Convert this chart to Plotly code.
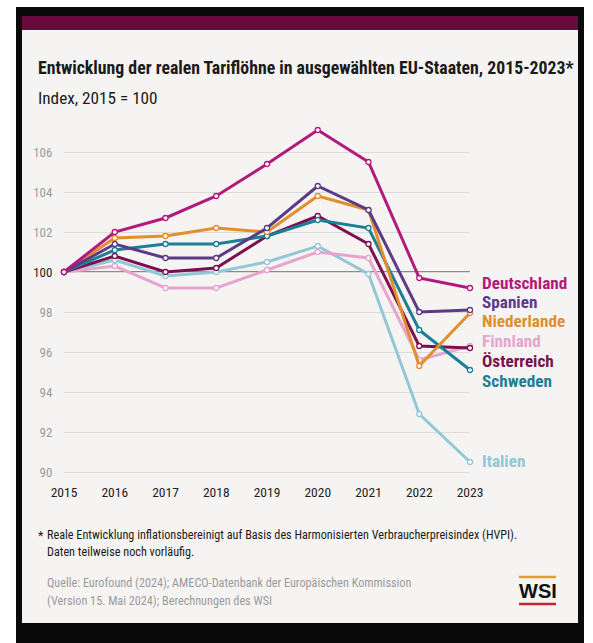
import plotly.graph_objects as go

years = [2015, 2016, 2017, 2018, 2019, 2020, 2021, 2022, 2023]

countries = ["Deutschland", "Spanien", "Niederlande", "Finnland", "Österreich", "Schweden", "Italien"]

deutschland = [100, 102.0, 102.7, 103.8, 105.4, 107.1, 105.5, 99.7, 99.2]
spanien     = [100, 101.4, 100.7, 100.7, 102.2, 104.3, 103.1, 98.0, 98.1]
niederlande = [100, 101.7, 101.8, 102.2, 102.0, 103.8, 103.1, 95.3, 97.95]
finnland    = [100, 100.3, 99.2, 99.2, 100.1, 101.0, 100.7, 95.6, 96.3]
oesterreich = [100, 100.8, 100.0, 100.2, 101.8, 102.8, 101.4, 96.3, 96.2]
schweden    = [100, 101.1, 101.4, 101.4, 101.8, 102.6, 102.2, 97.1, 95.1]
italien     = [100, 100.6, 99.8, 100.0, 100.5, 101.3, 99.9, 92.9, 90.5]

series = [deutschland, spanien, niederlande, finnland, oesterreich, schweden, italien]
colors = ["#b3197c", "#5c3a87", "#e08f2c", "#e6a5cf", "#7b1050", "#1b7f96", "#92c7d6"]
label_y = [99.47, 98.5, 97.55, 96.55, 95.55, 94.55, 90.55]

y_ticks = [90, 92, 94, 96, 98, 100, 102, 104, 106]
y_ticktext = [("<span style='color:#222222'>100</span>" if v == 100 else str(v)) for v in y_ticks]

title_text = "Entwicklung der realen Tariflöhne in ausgewählten EU-Staaten, 2015-2023*"
subtitle_text = "Index, 2015 = 100"
footnote_lines = [
    "Reale Entwicklung inflationsbereinigt auf Basis des Harmonisierten Verbraucherpreisindex (HVPI).",
    "Daten teilweise noch vorläufig.",
]
source_lines = [
    "Quelle: Eurofound (2024); AMECO-Datenbank der Europäischen Kommission",
    "(Version 15. Mai 2024); Berechnungen des WSI",
]

FONT = "Roboto Condensed, Liberation Sans Narrow, Roboto, sans-serif"

W, H = 593, 643
PL, PR = 64, 470
PT, PB = 120, 474


def px(x):
    return (x - PL) / (PR - PL)


def py(y):
    return (PB - y) / (PB - PT)


fig = go.Figure()

draw_order = [6, 3, 4, 5, 2, 1, 0]
for i in draw_order:
    fig.add_trace(go.Scatter(
        x=years, y=series[i], mode="lines+markers", name=countries[i],
        line=dict(color=colors[i], width=3),
        marker=dict(size=5, color="white", line=dict(color=colors[i], width=1.3)),
        cliponaxis=False, showlegend=False,
    ))

shapes = [
    dict(type="rect", xref="paper", yref="paper", x0=px(16), x1=px(584), y0=py(7), y1=py(643),
         fillcolor="#0a0a0a", line=dict(width=0), layer="below"),
    dict(type="rect", xref="paper", yref="paper", x0=px(22), x1=px(578), y0=py(30), y1=py(623),
         fillcolor="#f6f4f2", line=dict(width=0), layer="below"),
    dict(type="rect", xref="paper", yref="paper", x0=px(22), x1=px(578), y0=py(16), y1=py(30),
         fillcolor="#6a0a3c", line=dict(width=0), layer="below"),
    dict(type="line", xref="x", yref="y", x0=years[0], x1=years[-1], y0=100, y1=100,
         line=dict(color="#222222", width=1.2), layer="below"),
    dict(type="line", xref="paper", yref="paper", x0=px(519), x1=px(556), y0=py(577), y1=py(577),
         line=dict(color="#e0a030", width=2.5)),
    dict(type="line", xref="paper", yref="paper", x0=px(519), x1=px(556), y0=py(604), y1=py(604),
         line=dict(color="#c0282d", width=2.5)),
]

annotations = []
for i, name in enumerate(countries):
    annotations.append(dict(
        x=years[-1], y=label_y[i], xref="x", yref="y", text="<b>" + name + "</b>",
        xanchor="left", yanchor="middle", xshift=10, showarrow=False,
        font=dict(family=FONT, size=17.2, color=colors[i]),
    ))


def text_ann(x, y, text, size, color, bold=False, anchor="left", family=FONT):
    return dict(x=px(x), y=py(y), xref="paper", yref="paper", xanchor=anchor, yanchor="middle",
                text=("<b>" + text + "</b>") if bold else text, showarrow=False,
                font=dict(family=family, size=size, color=color))


annotations += [
    text_ann(36, 67, title_text, 17.8, "#1a1a1a", bold=True),
    text_ann(36, 98, subtitle_text, 17.2, "#1a1a1a"),
    text_ann(36, 535, "*", 12.5, "#1a1a1a"),
    text_ann(45, 535, footnote_lines[0], 12.2, "#1a1a1a"),
    text_ann(45, 552, footnote_lines[1], 12.2, "#1a1a1a"),
    text_ann(45, 583, source_lines[0], 12.2, "#9a9a9a"),
    text_ann(45, 601, source_lines[1], 12.2, "#9a9a9a"),
    text_ann(537.5, 591, "WSI", 20, "#111111", bold=True, anchor="center",
             family="Liberation Sans, Arial, sans-serif"),
]

fig.update_layout(
    width=W, height=H,
    margin=dict(l=PL, r=W - PR, t=PT, b=H - PB, pad=0),
    paper_bgcolor="white", plot_bgcolor="rgba(0,0,0,0)",
    font=dict(family=FONT),
    shapes=shapes, annotations=annotations,
    xaxis=dict(range=[years[0], years[-1]], tickvals=years, ticktext=[str(y) for y in years],
               showgrid=False, zeroline=False, showline=False,
               ticks="outside", ticklen=6, tickcolor="rgba(0,0,0,0)",
               tickfont=dict(family=FONT, size=13.5, color="#222222")),
    yaxis=dict(range=[89.9, 107.6], tickvals=y_ticks, ticktext=y_ticktext,
               showgrid=True, gridcolor="#dddbd8", gridwidth=1, zeroline=False, showline=False,
               ticks="outside", ticklen=8, tickcolor="rgba(0,0,0,0)",
               tickfont=dict(family=FONT, size=13, color="#9a9a9a")),
)

fig.write_html("out.html")
